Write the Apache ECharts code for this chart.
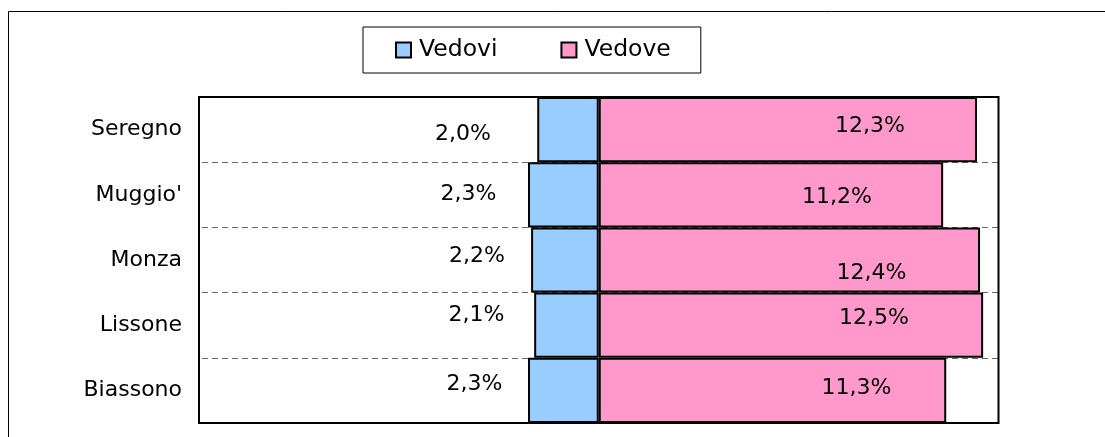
<!DOCTYPE html>
<html>
<head>
<meta charset="utf-8">
<script src="https://cdn.jsdelivr.net/npm/echarts@6/dist/echarts.min.js"></script>
<style>
html,body{margin:0;padding:0;background:#fff;}
#c{width:1105px;height:437px;}
</style>
</head>
<body>
<div id="c"></div>
<script>
const categories = ['Seregno', "Muggio'", 'Monza', 'Lissone', 'Biassono'];
const vedovi = [2.0, 2.3, 2.2, 2.1, 2.3];
const vedove = [12.3, 11.2, 12.4, 12.5, 11.3];
const seriesNames = ['Vedovi', 'Vedove'];

const fmt = v => Math.abs(v).toFixed(1).replace('.', ',') + '%';
const FONT = 'DejaVu Sans';

const blueOffsets = [[-105, 5], [-95, -1], [-88, -4], [-90, -10], [-89, -6]];
const pinkOffsets = [[82, -3], [66, 2], [82, 13], [83, -7], [84, -2]];

const chart = echarts.init(document.getElementById('c'), null, {renderer: 'canvas'});
chart.setOption({
  animation: false,
  backgroundColor: '#fff',
  textStyle: {fontFamily: FONT},
  graphic: [{
    type: 'rect', silent: true, z: -10,
    shape: {x: 8.5, y: 11.5, width: 1300, height: 600},
    style: {fill: 'none', stroke: '#000', lineWidth: 1}
  }],
  legend: {
    data: seriesNames,
    left: 363, top: 27,
    padding: [11, 30, 11, 32],
    itemGap: 63,
    itemWidth: 15, itemHeight: 15,
    icon: 'rect',
    borderColor: '#000', borderWidth: 1,
    itemStyle: {borderColor: '#000', borderWidth: 2},
    textStyle: {fontFamily: FONT, fontSize: 23.5, color: '#000', padding: [0, 0, 0, 3]}
  },
  grid: {
    left: 199, right: 106.5, top: 97, bottom: 14, z: 10,
    show: true, borderColor: '#000', borderWidth: 2, backgroundColor: 'transparent'
  },
  xAxis: {
    type: 'value', min: -13, max: 13,
    axisLabel: {show: false}, axisLine: {show: false}, axisTick: {show: false},
    splitLine: {show: false}
  },
  yAxis: {
    type: 'category', data: categories, inverse: true,
    axisLine: {show: false}, axisTick: {show: false},
    axisLabel: {fontFamily: FONT, fontSize: 22, color: '#000', margin: 17},
    splitLine: {show: true, interval: 0, lineStyle: {type: [6, 4], dashOffset: -3, color: '#666', width: 1}}
  },
  series: [
    {
      name: seriesNames[0], type: 'bar', stack: 'tot', barWidth: '100%',
      data: vedovi.map((v, i) => ({
        value: -v,
        label: {offset: blueOffsets[i]}
      })),
      itemStyle: {color: '#99CCFF', borderColor: '#000', borderWidth: 2},
      label: {show: true, position: 'inside', formatter: p => fmt(p.value),
        fontFamily: FONT, fontSize: 22, color: '#000'}
    },
    {
      name: seriesNames[1], type: 'bar', stack: 'tot', barWidth: '100%',
      data: vedove.map((v, i) => ({
        value: v,
        label: {offset: pinkOffsets[i]}
      })),
      itemStyle: {color: '#FF99CC', borderColor: '#000', borderWidth: 2},
      label: {show: true, position: 'inside', formatter: p => fmt(p.value),
        fontFamily: FONT, fontSize: 22, color: '#000'}
    }
  ]
});
</script>
</body>
</html>
